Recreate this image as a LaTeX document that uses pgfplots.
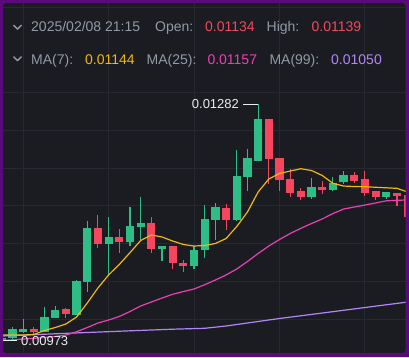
\documentclass[border=0pt]{standalone}
\usepackage{pgfplots}
\pgfplotsset{compat=1.18}
\usepackage{pgfplotstable}
\usepackage{fontspec}
\setmainfont{Liberation Sans}
\definecolor{bg}{HTML}{1A1C22}
\definecolor{gridc}{HTML}{262930}
\definecolor{up}{HTML}{2EBD85}
\definecolor{down}{HTML}{F6465D}
\definecolor{maY}{HTML}{F0B90B}
\definecolor{maP}{HTML}{EB40B5}
\definecolor{maV}{HTML}{B385F8}
\definecolor{txtg}{HTML}{929AA5}
\definecolor{txtw}{HTML}{EAECEF}
\definecolor{frame}{HTML}{5A0A7D}

\pgfplotstableread{
i o h l c
0 0.00974 0.00979 0.00973 0.00977
1 0.00976 0.00991 0.00975 0.00988
2 0.00985 0.01001 0.00983 0.00988
4 0.00985 0.01017 0.00984 0.01004
5 0.01003 0.01018 0.01002 0.01013
7 0.01007 0.01052 0.01006 0.01051
8 0.01050 0.01129 0.01037 0.01120
10 0.01099 0.01134 0.01057 0.01109
12 0.01102 0.01147 0.01096 0.01123
13 0.01121 0.01161 0.01104 0.01126
15 0.01093 0.01097 0.01077 0.01097
18 0.01070 0.01096 0.01067 0.01091
19 0.01091 0.01150 0.01081 0.01132
20 0.01131 0.01153 0.01105 0.01147
22 0.01130 0.01222 0.01129 0.01188
23 0.01187 0.01223 0.01168 0.01211
24 0.01208 0.01282 0.01207 0.01263
29 0.01160 0.01185 0.01158 0.01173
31 0.01170 0.01187 0.01169 0.01179
32 0.01180 0.01195 0.01178 0.01189
36 0.01161 0.01167 0.01158 0.01167
}\greentab

\pgfplotstableread{
i o h l c
3 0.00988 0.00991 0.00982 0.00984
6 0.01014 0.01016 0.01002 0.01008
9 0.01120 0.01137 0.01094 0.01099
11 0.01109 0.01119 0.01088 0.01102
14 0.01126 0.01135 0.01088 0.01093
16 0.01097 0.01097 0.01067 0.01074
17 0.01074 0.01078 0.01063 0.01070
21 0.01146 0.01151 0.01117 0.01130
25 0.01262 0.01263 0.01178 0.01210
26 0.01211 0.01212 0.01169 0.01183
27 0.01184 0.01197 0.01161 0.01166
28 0.01168 0.01172 0.01157 0.01160
30 0.01173 0.01181 0.01165 0.01170
33 0.01189 0.01193 0.01179 0.01181
34 0.01184 0.01194 0.01162 0.01166
35 0.01168 0.01168 0.01157 0.01161
37 0.01166 0.01166 0.01149 0.01162
38 0.01163 0.01164 0.01134 0.01134
}\redtab

\begin{document}
\begin{tikzpicture}
\fill[bg] (0,0) rectangle (409pt,357pt);
\begin{axis}[at={(0,0)},anchor=south west,scale only axis,
  width=409pt,height=357pt,
  xmin=-0.16854,xmax=38.1273,ymin=0.00951708,ymax=0.01417772,
  axis line style={draw=none},tick style={draw=none},
  xtick={2,10,18,26,34},
  ytick={0.0100106,0.0105041,0.0109976,0.0114910,0.0119845,0.0124779,0.0129714,0.0140863},
  xticklabels={},yticklabels={},
  grid=major,major grid style={draw=gridc,line width=0.9pt},
  candle/.style={draw=none,mark=none,error bars/.cd,y dir=plus,y explicit,error mark=none},
  clip=true]
% wicks
\addplot[candle,error bar style={draw=up,line width=1.1pt,solid}]
  table[x=i,y=l,y error expr=\thisrow{h}-\thisrow{l}]{\greentab};
\addplot[candle,error bar style={draw=down,line width=1.1pt,solid}]
  table[x=i,y=l,y error expr=\thisrow{h}-\thisrow{l}]{\redtab};
% bodies
\addplot[candle,error bar style={draw=up,line width=8.2pt,solid}]
  table[x=i,y=o,y error expr=\thisrow{c}-\thisrow{o}]{\greentab};
\addplot[candle,error bar style={draw=down,line width=8.2pt,solid}]
  table[x=i,y=c,y error expr=\thisrow{o}-\thisrow{c}]{\redtab};
% MA99
\addplot[maV,line width=1.2pt,mark=none] coordinates {
(0,0.009791)(6,0.009826)(12,0.009859)(16,0.009880)(19,0.009892)(21,0.009922)
(23,0.009961)(26,0.010020)(30,0.010091)(34,0.010163)(38,0.010235)};
% MA25
\addplot[maP,line width=1.2pt,mark=none] coordinates {
(0,0.009732)(1,0.009742)(2,0.009752)(3,0.009761)(4,0.009772)(5,0.009785)
(6,0.009804)(7,0.009847)(8,0.009902)(9,0.009961)(10,0.010000)(11,0.010046)
(12,0.010111)(13,0.010183)(14,0.010235)(15,0.010287)(16,0.010336)(17,0.010372)
(18,0.010405)(19,0.010461)(20,0.010522)(21,0.010588)(22,0.010666)(23,0.010764)
(24,0.010868)(25,0.010966)(26,0.011051)(27,0.011129)(28,0.011197)(29,0.011260)
(30,0.011319)(31,0.011390)(32,0.011449)(33,0.011475)(34,0.011501)(35,0.011528)
(36,0.011556)(37,0.011563)(38,0.011567)};
% MA7
\addplot[maY,line width=1.2pt,mark=none] coordinates {
(0,0.009804)(1,0.009804)(2,0.009804)(3,0.009811)(4,0.009863)(5,0.009902)
(6,0.009948)(7,0.010039)(8,0.010222)(9,0.010418)(10,0.010588)(11,0.010725)
(12,0.010879)(13,0.011038)(14,0.011110)(15,0.011084)(16,0.011031)(17,0.010986)
(18,0.010966)(19,0.010973)(20,0.010999)(21,0.011064)(22,0.011221)(23,0.011410)
(24,0.011671)(25,0.011841)(26,0.011913)(27,0.011945)(28,0.011975)(29,0.011952)
(30,0.011887)(31,0.011785)(32,0.011749)(33,0.011743)(34,0.011740)(35,0.011733)
(36,0.011726)(37,0.011719)(38,0.011671)};
% high / low markers
\draw[txtw,line width=1pt] (axis cs:22.6,0.01282) -- (axis cs:24,0.01282);
\node[anchor=east,inner sep=0pt,text=txtw,font=\fontsize{13pt}{13pt}\selectfont]
  at (axis cs:22.22,0.01282) {0.01282};
\draw[txtw,line width=1pt] (axis cs:0,0.00973) -- (axis cs:1.42,0.00973);
\node[anchor=west,inner sep=0pt,text=txtw,font=\fontsize{13pt}{13pt}\selectfont]
  at (axis cs:1.80,0.00973) {0.00973};
\end{axis}
\begin{scope}[x=1pt,y=-1pt,yshift=357pt]
\draw[txtg,line width=1.4pt,line join=miter] (13.5,25.2) -- (17.5,29) -- (21.5,25.2);
\draw[txtg,line width=1.4pt,line join=miter] (13.5,56.7) -- (17.5,60.5) -- (21.5,56.7);
\begin{scope}[every node/.style={anchor=base west,inner sep=0pt,font=\fontsize{14pt}{14pt}\selectfont}]
\node[text=txtg] at (31,31.8) {2025/02/08 21:15};
\node[text=txtg] at (155,31.8) {Open:};
\node[text=down] at (205,31.8) {0.01134};
\node[text=txtg] at (266.5,31.8) {High:};
\node[text=down] at (311.5,31.8) {0.01139};
\node[text=txtg] at (31,64) {MA(7):};
\node[text=maY] at (85,64) {0.01144};
\node[text=txtg] at (146.5,64) {MA(25):};
\node[text=maP] at (207.3,64) {0.01157};
\node[text=txtg] at (269.3,64) {MA(99):};
\node[text=maV] at (331,64) {0.01050};
\end{scope}
\end{scope}
\fill[frame,even odd rule] (0,0) rectangle (409pt,357pt) [rounded corners=3pt] (3pt,4pt) rectangle (405.5pt,354pt);
\pgfresetboundingbox
\useasboundingbox (0,0) rectangle (409pt,357pt);
\end{tikzpicture}
\end{document}
